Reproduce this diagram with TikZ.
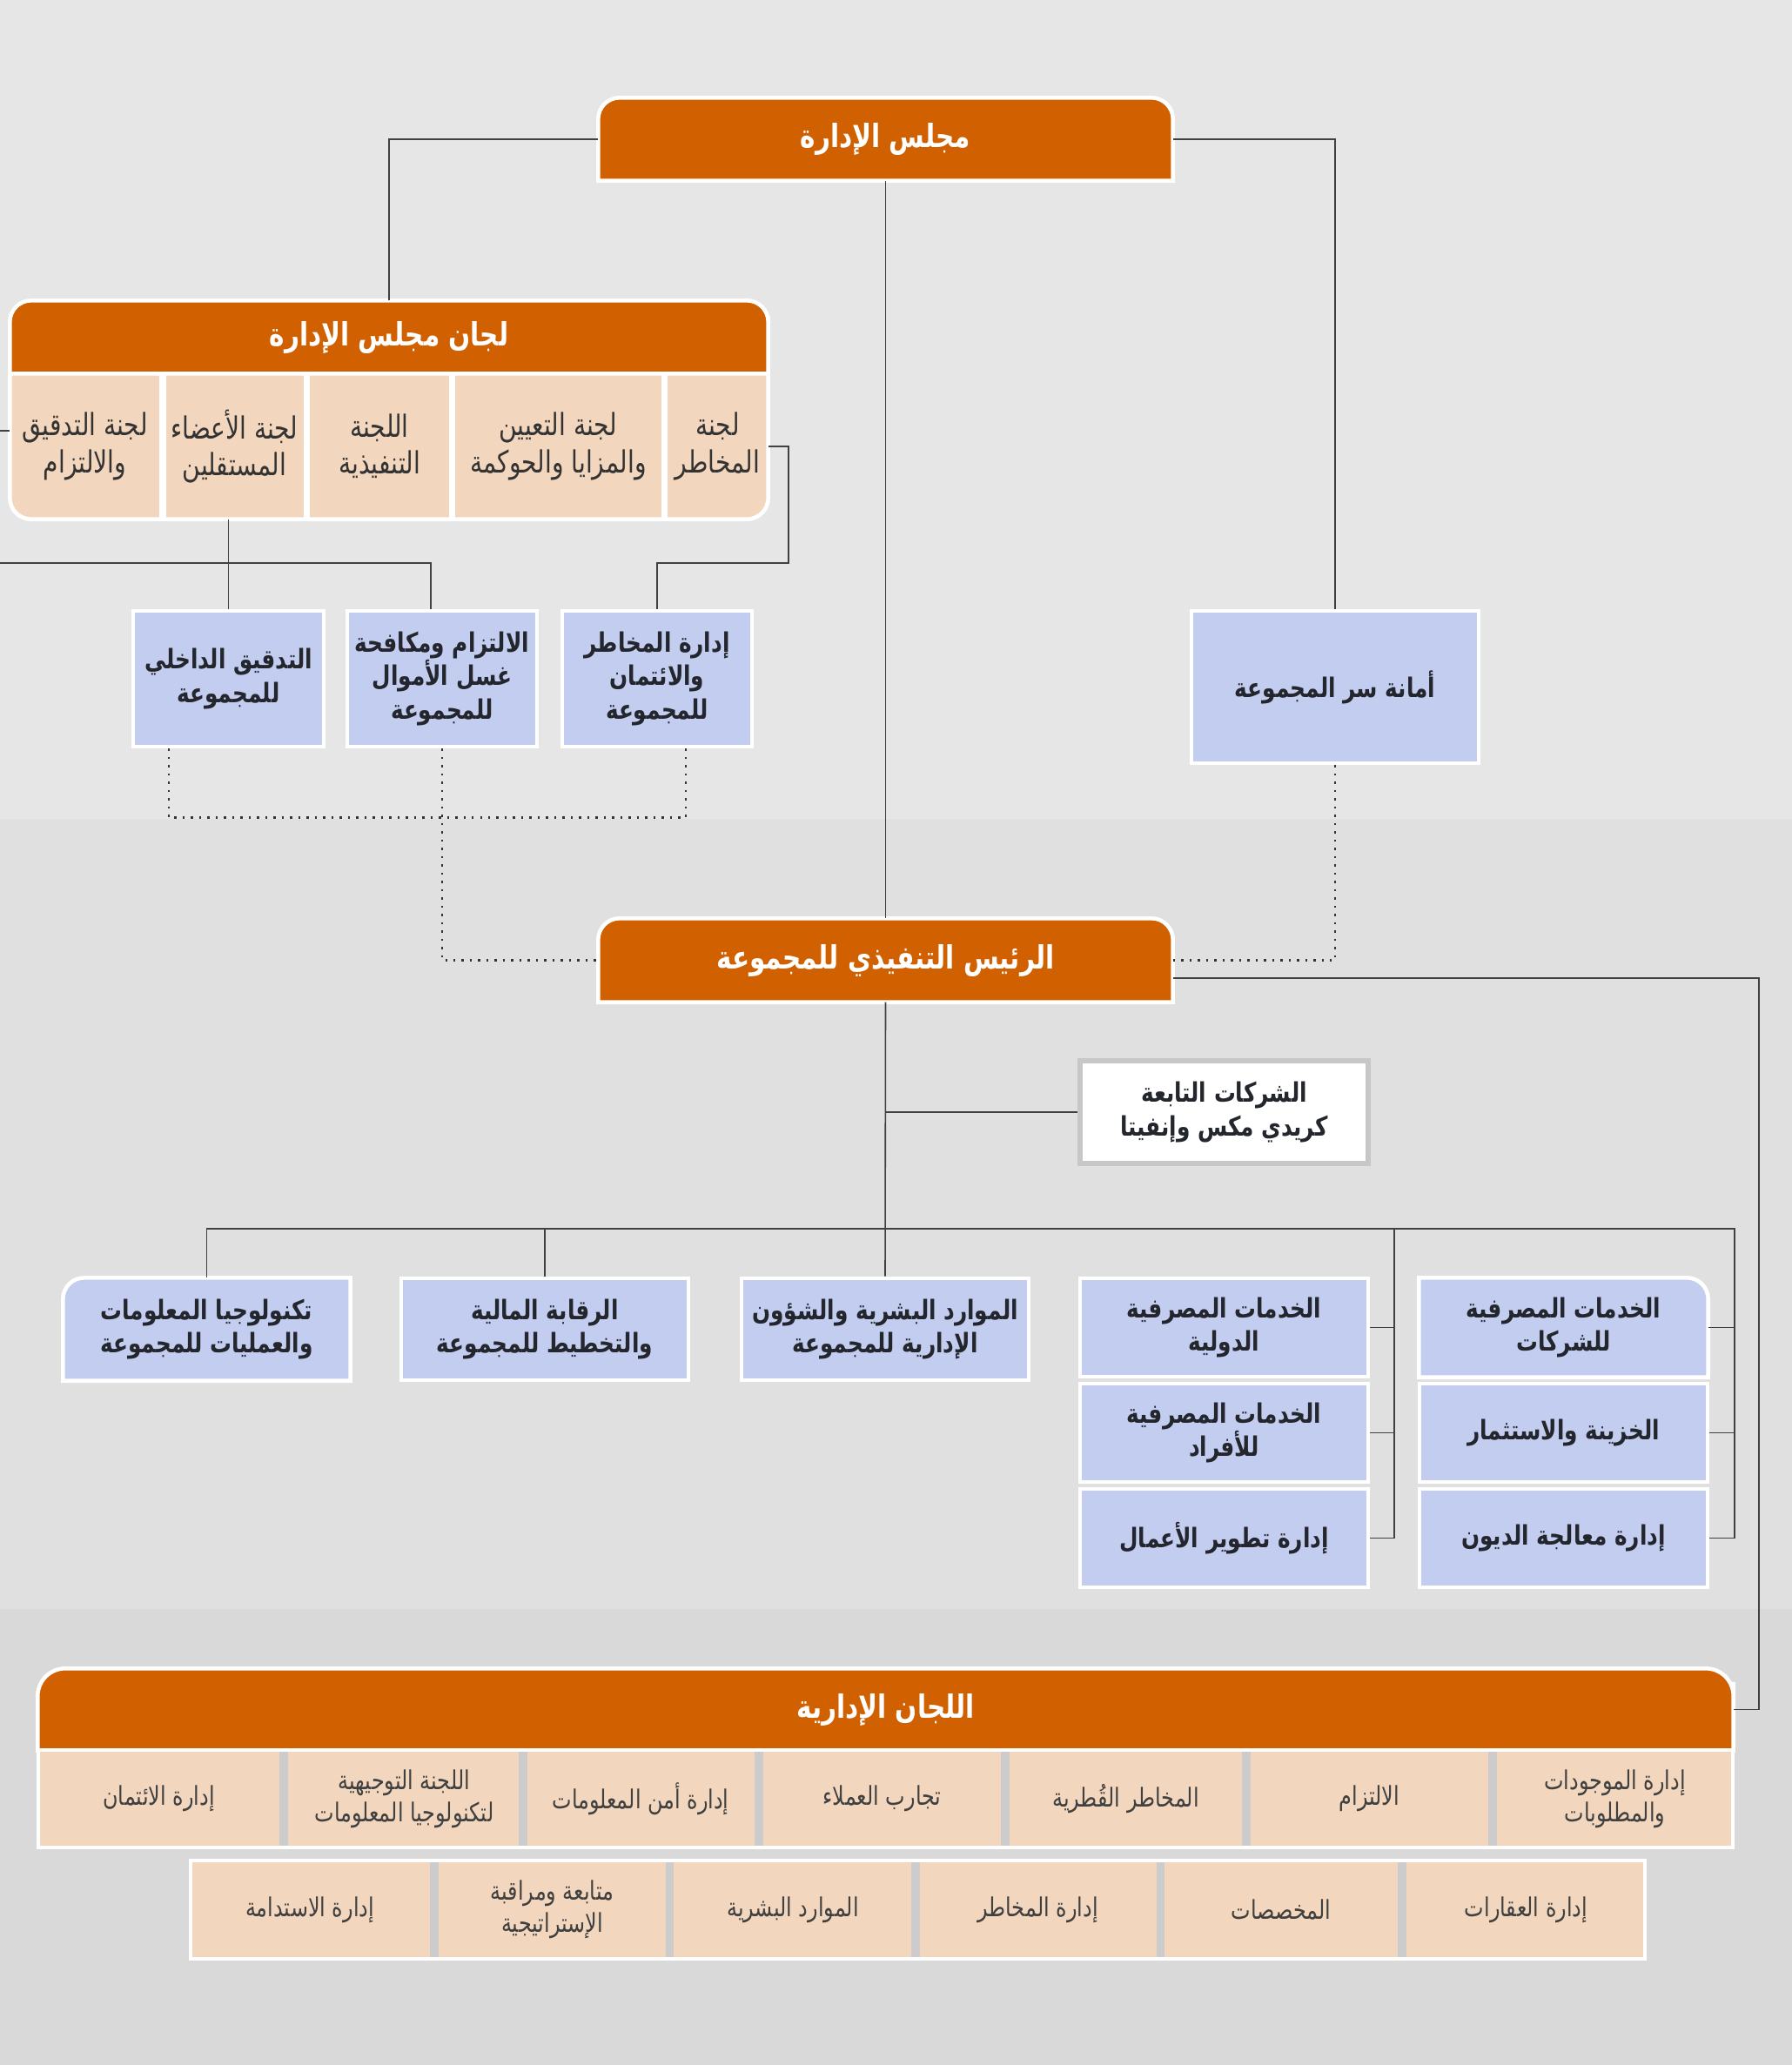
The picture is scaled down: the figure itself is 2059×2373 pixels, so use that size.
\documentclass[tikz,border=0pt]{standalone}
\usepackage{fontspec}
\newfontfamily\arfont[Script=Arabic,FakeStretch=0.8]{DejaVu Sans}
\TeXXeTstate=1
\usetikzlibrary{positioning,calc}
\definecolor{orgfill}{RGB}{208,96,0}
\definecolor{bluefill}{RGB}{195,205,240}
\definecolor{peachfill}{RGB}{242,214,189}
\definecolor{bandA}{RGB}{230,230,230}
\definecolor{bandB}{RGB}{224,224,224}
\definecolor{bandC}{RGB}{217,217,217}
\definecolor{sepgray}{RGB}{204,204,204}
\definecolor{txtdark}{RGB}{35,38,45}
\newcommand{\artx}[1]{\beginR #1\endR}
\pgfdeclarelayer{bands}
\pgfdeclarelayer{shapes}
\pgfsetlayers{bands,shapes,main}

\begin{document}
\begin{tikzpicture}[x=0.1mm,y=-0.1mm,
  conn/.style={draw=black!75,line width=0.45pt},
  dots/.style={draw=black!80,line width=0.7pt,dotted},
  hdrtext/.style={text=white,font=\arfont\bfseries\fontsize{10.5}{13}\selectfont,align=center,inner sep=0pt},
  hdrshape/.style={fill=orgfill,draw=white,line width=1.3pt},
  unitbox/.style={fill=bluefill,draw=white,line width=1.3pt,text=txtdark,font=\arfont\bfseries\fontsize{8.8}{11}\selectfont,align=center,inner sep=0pt},
  unittext/.style={text=txtdark,font=\arfont\bfseries\fontsize{8.8}{11}\selectfont,align=center,inner sep=0pt},
  blueshape/.style={fill=bluefill,draw=white,line width=1.3pt},
  subbox/.style={fill=white,draw=black!22,line width=1.6pt,text=txtdark,font=\arfont\bfseries\fontsize{8.8}{11}\selectfont,align=center,inner sep=0pt},
  comshape/.style={fill=peachfill,draw=white,line width=1.3pt},
  comtext/.style={text=black!80,font=\arfont\fontsize{10}{12}\selectfont,align=center,inner sep=0pt},
  mgtext/.style={text=black!75,font=\arfont\fontsize{8.5}{10.5}\selectfont,align=center,inner sep=0pt}]

  \useasboundingbox (0,0) rectangle (2059,2373);
  % background bands
  \begin{pgfonlayer}{bands}
    \fill[bandA] (0,0) rectangle (2059,941);
    \fill[bandB] (0,941) rectangle (2059,1849);
    \fill[bandC] (0,1849) rectangle (2059,2373);
  \end{pgfonlayer}

  % board
  \node[hdrtext,minimum width=6.59cm,minimum height=0.94cm] (board) at (1017.5,160) {\artx{مجلس الإدارة}};

  % board committees
  \node[hdrtext,minimum width=8.70cm,minimum height=0.84cm] (bcomh) at (447,388) {\artx{لجان مجلس الإدارة}};
  \node[comtext,minimum width=1.71cm,minimum height=1.66cm] (c1) at (97.5,513) {\artx{لجنة التدقيق}\\\artx{والالتزام}};
  \node[comtext,minimum width=1.59cm,minimum height=1.66cm] (c2) at (269.5,513) {\artx{لجنة الأعضاء}\\\artx{المستقلين}};
  \node[comtext,minimum width=1.60cm,minimum height=1.66cm] (c3) at (436,513) {\artx{اللجنة}\\\artx{التنفيذية}};
  \node[comtext,minimum width=2.37cm,minimum height=1.66cm] (c4) at (641.5,513) {\artx{لجنة التعيين}\\\artx{والمزايا والحوكمة}};
  \node[comtext,minimum width=1.15cm,minimum height=1.66cm] (c5) at (824.5,513) {\artx{لجنة}\\\artx{المخاطر}};

  % group control units
  \node[unitbox,minimum width=2.19cm,minimum height=1.56cm] (aud) at (262.5,780) {\artx{التدقيق الداخلي}\\\artx{للمجموعة}};
  \node[unitbox,minimum width=2.18cm,minimum height=1.56cm] (aml) at (508,780) {\artx{الالتزام ومكافحة}\\\artx{غسل الأموال}\\\artx{للمجموعة}};
  \node[unitbox,minimum width=2.18cm,minimum height=1.56cm] (rsk) at (755,780) {\artx{إدارة المخاطر}\\\artx{والائتمان}\\\artx{للمجموعة}};
  \node[unitbox,minimum width=3.30cm,minimum height=1.75cm] (sec) at (1534,789.5) {\artx{أمانة سر المجموعة}};

  % group ceo
  \node[hdrtext,minimum width=6.59cm,minimum height=0.95cm] (ceo) at (1017.5,1103.5) {\artx{الرئيس التنفيذي للمجموعة}};
  \node[subbox,minimum width=3.31cm,minimum height=1.18cm] (sub) at (1406.5,1278) {\artx{الشركات التابعة}\\\artx{كريدي مكس وإنفيتا}};

  % divisions
  \node[unittext,minimum width=3.29cm,minimum height=1.17cm] (it) at (237.5,1527.5) {\artx{تكنولوجيا المعلومات}\\\artx{والعمليات للمجموعة}};
  \node[unitbox,minimum width=3.30cm,minimum height=1.17cm] (fin) at (626,1527.5) {\artx{الرقابة المالية}\\\artx{والتخطيط للمجموعة}};
  \node[unitbox,minimum width=3.30cm,minimum height=1.17cm] (hr) at (1017,1527.5) {\artx{الموارد البشرية والشؤون}\\\artx{الإدارية للمجموعة}};
  \node[unitbox,minimum width=3.31cm,minimum height=1.13cm] (ib1) at (1406.5,1525.5) {\artx{الخدمات المصرفية}\\\artx{الدولية}};
  \node[unitbox,minimum width=3.31cm,minimum height=1.13cm] (ib2) at (1406.5,1646.5) {\artx{الخدمات المصرفية}\\\artx{للأفراد}};
  \node[unitbox,minimum width=3.31cm,minimum height=1.13cm] (ib3) at (1406.5,1767.5) {\artx{إدارة تطوير الأعمال}};
  \node[unittext,minimum width=3.31cm,minimum height=1.13cm] (cb1) at (1796.5,1525.5) {\artx{الخدمات المصرفية}\\\artx{للشركات}};
  \node[unitbox,minimum width=3.31cm,minimum height=1.13cm] (cb2) at (1796.5,1646.5) {\artx{الخزينة والاستثمار}};
  \node[unitbox,minimum width=3.31cm,minimum height=1.13cm] (cb3) at (1796.5,1767.5) {\artx{إدارة معالجة الديون}};

  % management committees
  \node[hdrtext,minimum width=19.47cm,minimum height=0.93cm] (mgh) at (1017.5,1964.5) {\artx{اللجان الإدارية}};
  \node[mgtext,minimum width=2.77cm,minimum height=1.12cm] (m1) at (182.5,2067) {\artx{إدارة الائتمان}};
  \node[mgtext,minimum width=2.67cm,minimum height=1.12cm] (m2) at (464.5,2067) {\artx{اللجنة التوجيهية}\\\artx{لتكنولوجيا المعلومات}};
  \node[mgtext,minimum width=2.62cm,minimum height=1.12cm] (m3) at (736,2067) {\artx{إدارة أمن المعلومات}};
  \node[mgtext,minimum width=2.73cm,minimum height=1.12cm] (m4) at (1013.5,2067) {\artx{تجارب العملاء}};
  \node[mgtext,minimum width=2.67cm,minimum height=1.12cm] (m5) at (1293.5,2067) {\artx{المخاطر القُطرية}};
  \node[mgtext,minimum width=2.73cm,minimum height=1.12cm] (m6) at (1573.5,2067) {\artx{الالتزام}};
  \node[mgtext,minimum width=2.71cm,minimum height=1.12cm] (m7) at (1855.5,2067) {\artx{إدارة الموجودات}\\\artx{والمطلوبات}};
  \node[mgtext,minimum width=2.74cm,minimum height=1.13cm] (n1) at (356,2194.5) {\artx{إدارة الاستدامة}};
  \node[mgtext,minimum width=2.59cm,minimum height=1.13cm] (n2) at (634.5,2194.5) {\artx{متابعة ومراقبة}\\\artx{الإستراتيجية}};
  \node[mgtext,minimum width=2.72cm,minimum height=1.13cm] (n3) at (911,2194.5) {\artx{الموارد البشرية}};
  \node[mgtext,minimum width=2.71cm,minimum height=1.13cm] (n4) at (1192.5,2194.5) {\artx{إدارة المخاطر}};
  \node[mgtext,minimum width=2.66cm,minimum height=1.13cm] (n5) at (1472,2194.5) {\artx{المخصصات}};
  \node[mgtext,minimum width=2.73cm,minimum height=1.13cm] (n6) at (1753.5,2194.5) {\artx{إدارة العقارات}};

  % shaped boxes
  \begin{pgfonlayer}{shapes}
    \draw[hdrshape] (board.south west) -- (board.west) [rounded corners=7pt] -- (board.north west) -- (board.north east) -- (board.east) [sharp corners] -- (board.south east) -- cycle;
    \draw[hdrshape] (ceo.south west) -- (ceo.west) [rounded corners=7pt] -- (ceo.north west) -- (ceo.north east) -- (ceo.east) [sharp corners] -- (ceo.south east) -- cycle;
    \draw[hdrshape] (bcomh.south west) -- (bcomh.west) [rounded corners=7pt] -- (bcomh.north west) -- (bcomh.north east) -- (bcomh.east) [sharp corners] -- (bcomh.south east) -- cycle;
    \draw[comshape] (c1.north west) -- (c1.west) [rounded corners=7pt] -- (c1.south west) -- (c5.south east) -- (c5.east) [sharp corners] -- (c5.north east) -- cycle;
    \foreach \sx in {187,352.5,519.5,763.5}
      \draw[white,line width=2pt] (\sx,430) -- (\sx,596);
    \draw[hdrshape] (mgh.south west) -- (mgh.west) [rounded corners=9pt] -- (mgh.north west) -- (mgh.north east) -- (mgh.east) [sharp corners] -- (mgh.south east) -- cycle;
    \draw[comshape] (44,2011) rectangle (1991,2123);
    \draw[comshape] (219,2138) rectangle (1890,2251);
    \foreach \sx in {326,601,872,1155,1432,1715}
      \draw[sepgray,line width=2.6pt] (\sx,2013) -- (\sx,2121);
    \foreach \sx in {499,769.5,1052,1333.5,1611}
      \draw[sepgray,line width=2.6pt] (\sx,2140) -- (\sx,2249);
    \draw[blueshape] (it.south west) -- (it.west) [rounded corners=7pt] -- (it.north west) -- (it.north) [sharp corners] -- (it.north east) -- (it.south east) -- cycle;
    \draw[blueshape] (cb1.north west) -- (cb1.north) [rounded corners=7pt] -- (cb1.north east) -- (cb1.east) [sharp corners] -- (cb1.south east) -- (cb1.south west) -- cycle;
  \end{pgfonlayer}

  % board links
  \draw[conn] (board.west) -| (bcomh.north);
  \draw[conn] (board.east) -| (sec.north);
  \draw[conn] (board.south) -- (ceo.north);
  \coordinate (lftA) at (0,495);
  \coordinate (lftB) at (0,647);
  \draw[conn] (lftA) -- (lftA -| c1.west);
  \draw[conn] (lftB) -| ([xshift=-1.3mm]aml.north);
  \draw[conn] (aud.north |- c2.south) -- (aud.north);
  \draw[conn] (c5.east) -- ++(23,0) |- (rsk.north |- 0,647) -- (rsk.north);

  % dotted reporting lines
  \draw[dots] ([xshift=-6.85mm]aud.south) -- ++(0,79) -| ([xshift=3.3mm]rsk.south);
  \draw[dots] (aml.south) |- (ceo.west);
  \draw[dots] (sec.south) |- (ceo.east);

  % ceo links
  \coordinate (busM) at (1602,1412);
  \coordinate (busR) at (1993,1412);
  \draw[conn] (ceo.south) -- (hr.north);
  \draw[conn] (sub.west) -- (sub.west -| ceo.south);
  \draw[conn] (it.north) |- (busR) |- (cb3.east);
  \draw[conn] (fin.north) -- (fin.north |- busR);
  \draw[conn] (busM) |- (ib3.east);
  \foreach \n in {ib1,ib2} \draw[conn] (\n.east) -- (\n.east -| busM);
  \foreach \n in {cb1,cb2} \draw[conn] (\n.east) -- (\n.east -| busR);
  \draw[conn] ([yshift=-2.05mm]ceo.east) -- ++(673,0) |- (mgh.east);
\end{tikzpicture}
\end{document}
